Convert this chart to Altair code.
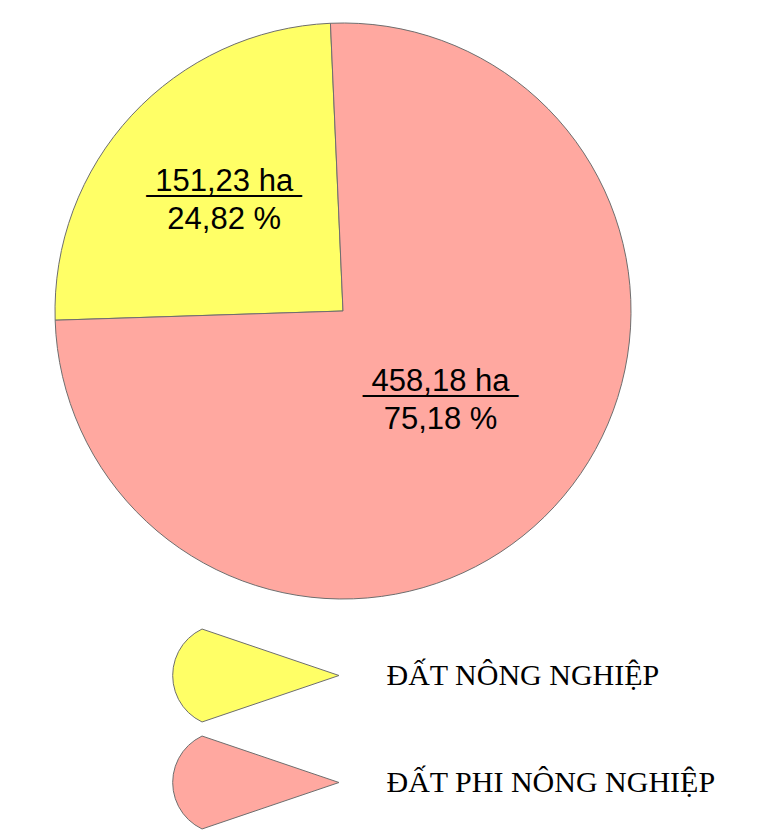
import math
import altair as alt
import pandas as pd

categories = ["ĐẤT NÔNG NGHIỆP", "ĐẤT PHI NÔNG NGHIỆP"]
areas = [151.23, 458.18]
percents = [24.82, 75.18]
colors = ["#FFFF66", "#FFA8A0"]


def vn(x):
    return f"{x:.2f}".replace(".", ",")


df = pd.DataFrame({
    "category": categories,
    "area": areas,
    "percent": percents,
})
df["label"] = [f"{vn(a)} ha\n{vn(p)} %" for a, p in zip(areas, percents)]
df["uline"] = ["_" * len(f"{vn(a)} ha") + "\n " for a in areas]

start = math.radians(-2.5)
theta = alt.Theta("area:Q", stack=True, scale=alt.Scale(range=[start, start + 2 * math.pi]))
order = alt.Order("category:N", sort="descending")

# legend symbol: wedge with a rounded back, drawn larger than its nominal size
S = 110          # nominal symbol size (px) used by the legend layout
k = 166 / S      # path scale so the drawn wedge is ~166 px wide
cx, r = -0.384, 0.62
a0 = math.atan2(-0.56, -0.266) % (2 * math.pi)
a1 = math.atan2(0.56, -0.266)
pts = []
n = 14
for i in range(n + 1):
    a = a0 + (a1 - a0) * i / n
    pts.append(f"{k * (cx + r * math.cos(a)):.3f} {k * r * math.sin(a):.3f}")
symbol_path = f"M {k:.3f} 0 L " + " L ".join(pts) + " Z"

color = alt.Color(
    "category:N",
    scale=alt.Scale(domain=categories, range=colors),
    legend=alt.Legend(
        title=None,
        orient="none",
        legendX=192.5,
        legendY=612,
        symbolType=symbol_path,
        symbolSize=S * S,
        symbolStrokeColor="#6e6e6e",
        symbolStrokeWidth=1,
        symbolOpacity=1,
        labelFont="Liberation Serif",
        labelFontSize=30,
        labelColor="black",
        labelLimit=0,
        labelOffset=75,
        rowPadding=3,
        padding=0,
    ),
)

base = alt.Chart(df)

pie = base.mark_arc(outerRadius=288, stroke="#6e6e6e", strokeWidth=1, opacity=1).encode(
    theta=theta, color=color, order=order
)

radius_expr = alt.expr(f"datum.category == '{categories[0]}' ? 162 : 133")

text_style = dict(
    font="Liberation Sans", fontSize=31, lineHeight=38, lineBreak="\n",
    color="black", align="center", baseline="middle", dy=-19,
    radius=radius_expr,
)

labels = base.mark_text(**text_style).encode(
    theta=theta, order=order, text="label:N"
)

ulines = base.mark_text(**text_style).encode(
    theta=theta, order=order, text="uline:N"
)

chart = (
    alt.layer(pie, labels, ulines)
    .properties(width=670, height=606, padding=0)
    .configure_view(stroke=None)
)

chart.save("out.html", embed_options={"renderer": "svg", "actions": False})
